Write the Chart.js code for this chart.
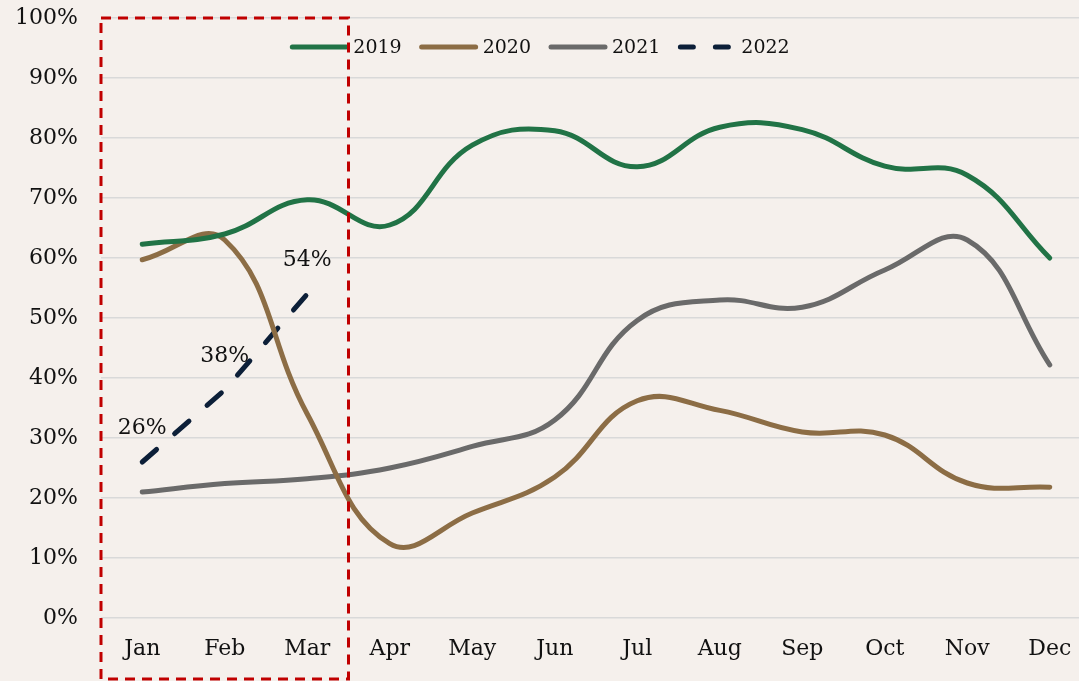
<!DOCTYPE html>
<html>
<head>
<meta charset="utf-8">
<title>Monthly rates 2019-2022</title>
<script src="https://cdn.jsdelivr.net/npm/chart.js@4.4.1/dist/chart.umd.min.js"></script>
<style>
    html, body { margin: 0; padding: 0; background: #f5f0ec; overflow: hidden; }
    #wrap { width: 1091px; height: 681px; position: relative; }
</style>
</head>
<body>
<div id="wrap"><canvas id="myChart"></canvas></div>
<script>
const months = ['Jan', 'Feb', 'Mar', 'Apr', 'May', 'Jun', 'Jul', 'Aug', 'Sep', 'Oct', 'Nov', 'Dec'];
const yTickLabels = ['0%', '10%', '20%', '30%', '40%', '50%', '60%', '70%', '80%', '90%', '100%'];

const values2019 = [62.3, 64, 69.7, 65.5, 78.8, 81.2, 75.2, 81.8, 81.4, 75.3, 73.8, 60];
const values2020 = [59.7, 63, 34, 12.4, 17.5, 23.5, 36.2, 34.6, 31, 30.5, 22.5, 21.8];
const values2021 = [21, 22.4, 23.2, 25, 28.6, 33, 49.6, 53, 51.8, 58, 63, 42.2];
const values2022 = [26, 38, 54];

const highlightMonths = ['Jan', 'Feb', 'Mar'];

const FONT = 'Georgia, "DejaVu Serif", serif';
const TEXT = '#111111';

// labels over the 2022 points, the legend and the red dashed box
const overlayPlugin = {
    id: 'overlay',
    afterDatasetsDraw(chart) {
        const ctx = chart.ctx;
        const x = chart.scales.x;
        const y = chart.scales.y;

        ctx.save();
        ctx.font = '22px ' + FONT;
        ctx.fillStyle = TEXT;
        ctx.textAlign = 'center';
        ctx.textBaseline = 'middle';
        const meta = chart.getDatasetMeta(3);
        meta.data.forEach((pt, i) => {
            ctx.fillText(Math.round(values2022[i]) + '%', pt.x, pt.y - 34);
        });

        // legend
        ctx.font = '19px ' + FONT;
        const sample = 56, gap = 7, itemGap = 18;
        const items = chart.data.datasets.map(ds => ({
            ds, w: sample + gap + ctx.measureText(ds.label).width
        }));
        const total = items.reduce((s, it) => s + it.w, 0) + itemGap * (items.length - 1);
        let lx = 540 - total / 2;
        const ly = 47;
        ctx.textAlign = 'left';
        items.forEach(it => {
            ctx.beginPath();
            ctx.strokeStyle = it.ds.borderColor;
            ctx.lineWidth = it.ds.borderWidth;
            ctx.lineCap = 'round';
            ctx.setLineDash(it.ds.borderDash ? [13, 22] : []);
            ctx.moveTo(lx + 2, ly);
            ctx.lineTo(lx + sample, ly);
            ctx.stroke();
            ctx.setLineDash([]);
            ctx.fillText(it.ds.label, lx + sample + gap, ly + 1);
            lx += it.w + itemGap;
        });

        // highlight box around the first months
        const last = months.indexOf(highlightMonths[highlightMonths.length - 1]);
        const left = chart.chartArea.left;
        const right = (x.getPixelForValue(last) + x.getPixelForValue(last + 1)) / 2;
        const top = y.getPixelForValue(100);
        const bottom = chart.height - 2;
        ctx.beginPath();
        ctx.strokeStyle = '#c00000';
        ctx.lineWidth = 3;
        ctx.lineCap = 'butt';
        ctx.setLineDash([10, 7]);
        ctx.rect(left, top, right - left, bottom - top);
        ctx.stroke();
        ctx.restore();
    }
};

const ctx = document.getElementById('myChart').getContext('2d');

new Chart(ctx, {
    type: 'line',
    data: {
        labels: months,
        datasets: [
            {
                label: '2019',
                data: values2019,
                borderColor: '#217346',
                borderWidth: 5,
                tension: 0.42
            },
            {
                label: '2020',
                data: values2020,
                borderColor: '#8c6d45',
                borderWidth: 5,
                tension: 0.42
            },
            {
                label: '2021',
                data: values2021,
                borderColor: '#6a6a6a',
                borderWidth: 5,
                tension: 0.42
            },
            {
                label: '2022',
                data: values2022,
                borderColor: '#0c1f38',
                borderWidth: 5,
                borderDash: [19, 24],
                borderCapStyle: 'round',
                tension: 0
            }
        ]
    },
    options: {
        responsive: true,
        maintainAspectRatio: false,
        animation: false,
        devicePixelRatio: 1,
        layout: { padding: { top: 18, right: 0, left: 0, bottom: 0 } },
        elements: {
            point: { radius: 0, hoverRadius: 0 },
            line: { borderCapStyle: 'round', borderJoinStyle: 'round', fill: false }
        },
        plugins: {
            legend: { display: false },
            tooltip: { enabled: false }
        },
        scales: {
            x: {
                offset: true,
                grid: { display: false, drawTicks: false },
                border: { display: false },
                ticks: {
                    color: TEXT,
                    font: { family: FONT, size: 22 },
                    padding: 18,
                    maxRotation: 0,
                    autoSkip: false
                },
                afterFit(scale) {
                    scale.height = 63;
                    scale.paddingLeft = 0;
                    scale.paddingRight = 0;
                }
            },
            y: {
                min: 0,
                max: 100,
                grid: { color: '#d9d9d9', lineWidth: 1.5, drawTicks: false },
                border: { display: false },
                ticks: {
                    stepSize: 10,
                    color: TEXT,
                    font: { family: FONT, size: 22 },
                    padding: 23,
                    callback: (v, i) => yTickLabels[i]
                },
                afterFit(scale) {
                    scale.width = 101;
                    scale.paddingTop = 0;
                    scale.paddingBottom = 0;
                }
            }
        }
    },
    plugins: [overlayPlugin]
});
</script>
</body>
</html>
